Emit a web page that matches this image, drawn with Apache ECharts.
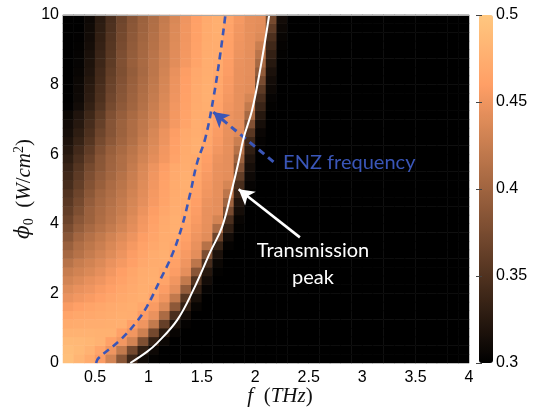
<!DOCTYPE html>
<html><head><meta charset="utf-8">
<script src="https://cdn.jsdelivr.net/npm/echarts@6/dist/echarts.min.js"></script>
<style>html,body{margin:0;padding:0;background:#fff}#c{width:537px;height:408px}</style>
</head><body><div id="c"></div>
<script>
// Frequency (THz) cell centres, columns of the map
const freqCenters = [0.25,0.35,0.45,0.55,0.65,0.75,0.85,0.95,1.05,1.15,
  1.25,1.35,1.45,1.55,1.65,1.75,1.85,1.95,2.05,2.15,
  2.25,2.35,2.45,2.55,2.65,2.75,2.85,2.95,3.05,3.15,
  3.25,3.35,3.45,3.55,3.65,3.75,3.85,3.95];
// Intensity phi0 (W/cm^2) cell centres, rows of the map
const phiCenters = [0.125,0.375,0.625,0.875,1.125,1.375,1.625,1.875,2.125,2.375,
  2.625,2.875,3.125,3.375,3.625,3.875,4.125,4.375,4.625,4.875,
  5.125,5.375,5.625,5.875,6.125,6.375,6.625,6.875,7.125,7.375,
  7.625,7.875,8.125,8.375,8.625,8.875,9.125,9.375,9.625,9.875];
// Map values (row = phi, column = frequency)
const mapValues = [
 [0.492,0.482,0.472,0.457,0.432,0.385,0.338,0.31,0.302,0.3, 0.3,0.3,0.3,0.3,0.3,0.3,0.3,0.3,0.3,0.3, 0.3,0.3,0.3,0.3,0.3,0.3,0.3,0.3,0.3,0.3,0.3,0.3,0.3,0.3,0.3,0.3,0.3,0.3],
 [0.49,0.486,0.479,0.466,0.45,0.422,0.372,0.33,0.308,0.3, 0.3,0.3,0.3,0.3,0.3,0.3,0.3,0.3,0.3,0.3, 0.3,0.3,0.3,0.3,0.3,0.3,0.3,0.3,0.3,0.3,0.3,0.3,0.3,0.3,0.3,0.3,0.3,0.3],
 [0.486,0.485,0.483,0.479,0.462,0.452,0.432,0.379,0.331,0.307, 0.3,0.3,0.3,0.3,0.3,0.3,0.3,0.3,0.3,0.3, 0.3,0.3,0.3,0.3,0.3,0.3,0.3,0.3,0.3,0.3,0.3,0.3,0.3,0.3,0.3,0.3,0.3,0.3],
 [0.479,0.479,0.479,0.478,0.478,0.462,0.451,0.428,0.372,0.326, 0.305,0.3,0.3,0.3,0.3,0.3,0.3,0.3,0.3,0.3, 0.3,0.3,0.3,0.3,0.3,0.3,0.3,0.3,0.3,0.3,0.3,0.3,0.3,0.3,0.3,0.3,0.3,0.3],
 [0.472,0.473,0.474,0.474,0.475,0.476,0.461,0.45,0.422,0.363, 0.319,0.303,0.3,0.3,0.3,0.3,0.3,0.3,0.3,0.3, 0.3,0.3,0.3,0.3,0.3,0.3,0.3,0.3,0.3,0.3,0.3,0.3,0.3,0.3,0.3,0.3,0.3,0.3],
 [0.465,0.468,0.469,0.471,0.473,0.475,0.474,0.458,0.447,0.407, 0.346,0.313,0.3,0.3,0.3,0.3,0.3,0.3,0.3,0.3, 0.3,0.3,0.3,0.3,0.3,0.3,0.3,0.3,0.3,0.3,0.3,0.3,0.3,0.3,0.3,0.3,0.3,0.3],
 [0.456,0.461,0.465,0.468,0.471,0.473,0.475,0.469,0.456,0.438, 0.388,0.331,0.305,0.3,0.3,0.3,0.3,0.3,0.3,0.3, 0.3,0.3,0.3,0.3,0.3,0.3,0.3,0.3,0.3,0.3,0.3,0.3,0.3,0.3,0.3,0.3,0.3,0.3],
 [0.447,0.452,0.456,0.461,0.466,0.47,0.473,0.476,0.464,0.451, 0.421,0.354,0.315,0.3,0.3,0.3,0.3,0.3,0.3,0.3, 0.3,0.3,0.3,0.3,0.3,0.3,0.3,0.3,0.3,0.3,0.3,0.3,0.3,0.3,0.3,0.3,0.3,0.3],
 [0.44,0.446,0.45,0.456,0.461,0.467,0.471,0.475,0.472,0.458, 0.444,0.392,0.331,0.304,0.3,0.3,0.3,0.3,0.3,0.3, 0.3,0.3,0.3,0.3,0.3,0.3,0.3,0.3,0.3,0.3,0.3,0.3,0.3,0.3,0.3,0.3,0.3,0.3],
 [0.432,0.438,0.445,0.45,0.457,0.463,0.469,0.474,0.476,0.465, 0.451,0.422,0.35,0.312,0.3,0.3,0.3,0.3,0.3,0.3, 0.3,0.3,0.3,0.3,0.3,0.3,0.3,0.3,0.3,0.3,0.3,0.3,0.3,0.3,0.3,0.3,0.3,0.3],
 [0.425,0.431,0.437,0.444,0.452,0.46,0.467,0.473,0.475,0.47, 0.458,0.444,0.385,0.323,0.302,0.3,0.3,0.3,0.3,0.3, 0.3,0.3,0.3,0.3,0.3,0.3,0.3,0.3,0.3,0.3,0.3,0.3,0.3,0.3,0.3,0.3,0.3,0.3],
 [0.415,0.425,0.431,0.438,0.447,0.454,0.461,0.469,0.473,0.474, 0.462,0.45,0.418,0.344,0.307,0.3,0.3,0.3,0.3,0.3, 0.3,0.3,0.3,0.3,0.3,0.3,0.3,0.3,0.3,0.3,0.3,0.3,0.3,0.3,0.3,0.3,0.3,0.3],
 [0.404,0.414,0.424,0.432,0.44,0.449,0.458,0.466,0.473,0.476, 0.467,0.455,0.443,0.377,0.317,0.3,0.3,0.3,0.3,0.3, 0.3,0.3,0.3,0.3,0.3,0.3,0.3,0.3,0.3,0.3,0.3,0.3,0.3,0.3,0.3,0.3,0.3,0.3],
 [0.396,0.41,0.419,0.427,0.436,0.445,0.454,0.463,0.469,0.474, 0.47,0.458,0.446,0.414,0.334,0.303,0.3,0.3,0.3,0.3, 0.3,0.3,0.3,0.3,0.3,0.3,0.3,0.3,0.3,0.3,0.3,0.3,0.3,0.3,0.3,0.3,0.3,0.3],
 [0.386,0.402,0.413,0.422,0.431,0.44,0.449,0.459,0.466,0.473, 0.474,0.462,0.45,0.442,0.368,0.312,0.3,0.3,0.3,0.3, 0.3,0.3,0.3,0.3,0.3,0.3,0.3,0.3,0.3,0.3,0.3,0.3,0.3,0.3,0.3,0.3,0.3,0.3],
 [0.376,0.393,0.405,0.414,0.423,0.433,0.443,0.454,0.464,0.472, 0.476,0.465,0.453,0.445,0.408,0.33,0.302,0.3,0.3,0.3, 0.3,0.3,0.3,0.3,0.3,0.3,0.3,0.3,0.3,0.3,0.3,0.3,0.3,0.3,0.3,0.3,0.3,0.3],
 [0.368,0.386,0.398,0.409,0.418,0.429,0.44,0.452,0.462,0.471, 0.476,0.468,0.456,0.446,0.433,0.347,0.305,0.3,0.3,0.3, 0.3,0.3,0.3,0.3,0.3,0.3,0.3,0.3,0.3,0.3,0.3,0.3,0.3,0.3,0.3,0.3,0.3,0.3],
 [0.362,0.379,0.397,0.407,0.416,0.425,0.436,0.448,0.459,0.468, 0.474,0.47,0.458,0.446,0.444,0.375,0.313,0.3,0.3,0.3, 0.3,0.3,0.3,0.3,0.3,0.3,0.3,0.3,0.3,0.3,0.3,0.3,0.3,0.3,0.3,0.3,0.3,0.3],
 [0.356,0.373,0.392,0.404,0.413,0.423,0.434,0.444,0.455,0.465, 0.473,0.472,0.46,0.448,0.444,0.4,0.32,0.3,0.3,0.3, 0.3,0.3,0.3,0.3,0.3,0.3,0.3,0.3,0.3,0.3,0.3,0.3,0.3,0.3,0.3,0.3,0.3,0.3],
 [0.351,0.368,0.387,0.401,0.41,0.42,0.431,0.442,0.454,0.464, 0.472,0.475,0.463,0.451,0.445,0.418,0.333,0.302,0.3,0.3, 0.3,0.3,0.3,0.3,0.3,0.3,0.3,0.3,0.3,0.3,0.3,0.3,0.3,0.3,0.3,0.3,0.3,0.3],
 [0.344,0.362,0.382,0.395,0.407,0.417,0.428,0.44,0.452,0.463, 0.472,0.476,0.465,0.453,0.445,0.434,0.345,0.304,0.3,0.3, 0.3,0.3,0.3,0.3,0.3,0.3,0.3,0.3,0.3,0.3,0.3,0.3,0.3,0.3,0.3,0.3,0.3,0.3],
 [0.34,0.358,0.378,0.392,0.403,0.414,0.426,0.438,0.451,0.462, 0.471,0.476,0.467,0.455,0.446,0.443,0.362,0.309,0.3,0.3, 0.3,0.3,0.3,0.3,0.3,0.3,0.3,0.3,0.3,0.3,0.3,0.3,0.3,0.3,0.3,0.3,0.3,0.3],
 [0.335,0.353,0.373,0.387,0.4,0.41,0.423,0.436,0.449,0.459, 0.47,0.474,0.47,0.458,0.446,0.444,0.381,0.314,0.3,0.3, 0.3,0.3,0.3,0.3,0.3,0.3,0.3,0.3,0.3,0.3,0.3,0.3,0.3,0.3,0.3,0.3,0.3,0.3],
 [0.329,0.347,0.366,0.386,0.399,0.41,0.42,0.432,0.443,0.453, 0.464,0.473,0.472,0.46,0.448,0.444,0.399,0.32,0.3,0.3, 0.3,0.3,0.3,0.3,0.3,0.3,0.3,0.3,0.3,0.3,0.3,0.3,0.3,0.3,0.3,0.3,0.3,0.3],
 [0.323,0.341,0.36,0.38,0.395,0.406,0.417,0.429,0.44,0.452, 0.462,0.472,0.476,0.464,0.452,0.445,0.414,0.33,0.301,0.3, 0.3,0.3,0.3,0.3,0.3,0.3,0.3,0.3,0.3,0.3,0.3,0.3,0.3,0.3,0.3,0.3,0.3,0.3],
 [0.318,0.334,0.353,0.374,0.388,0.401,0.412,0.425,0.437,0.449, 0.461,0.471,0.476,0.467,0.455,0.445,0.427,0.34,0.303,0.3, 0.3,0.3,0.3,0.3,0.3,0.3,0.3,0.3,0.3,0.3,0.3,0.3,0.3,0.3,0.3,0.3,0.3,0.3],
 [0.314,0.329,0.348,0.369,0.384,0.398,0.409,0.421,0.435,0.448, 0.459,0.47,0.474,0.469,0.457,0.446,0.441,0.356,0.306,0.3, 0.3,0.3,0.3,0.3,0.3,0.3,0.3,0.3,0.3,0.3,0.3,0.3,0.3,0.3,0.3,0.3,0.3,0.3],
 [0.311,0.324,0.344,0.364,0.384,0.398,0.409,0.42,0.431,0.443, 0.454,0.465,0.474,0.471,0.459,0.447,0.444,0.381,0.314,0.3, 0.3,0.3,0.3,0.3,0.3,0.3,0.3,0.3,0.3,0.3,0.3,0.3,0.3,0.3,0.3,0.3,0.3,0.3],
 [0.307,0.32,0.339,0.359,0.38,0.394,0.406,0.417,0.429,0.441, 0.453,0.464,0.473,0.473,0.461,0.449,0.444,0.405,0.324,0.3, 0.3,0.3,0.3,0.3,0.3,0.3,0.3,0.3,0.3,0.3,0.3,0.3,0.3,0.3,0.3,0.3,0.3,0.3],
 [0.301,0.312,0.332,0.352,0.374,0.389,0.401,0.413,0.426,0.439, 0.452,0.463,0.472,0.475,0.463,0.451,0.445,0.422,0.336,0.302, 0.3,0.3,0.3,0.3,0.3,0.3,0.3,0.3,0.3,0.3,0.3,0.3,0.3,0.3,0.3,0.3,0.3,0.3],
 [0.3,0.309,0.328,0.348,0.37,0.386,0.399,0.411,0.424,0.437, 0.45,0.462,0.471,0.476,0.465,0.453,0.445,0.434,0.346,0.304, 0.3,0.3,0.3,0.3,0.3,0.3,0.3,0.3,0.3,0.3,0.3,0.3,0.3,0.3,0.3,0.3,0.3,0.3],
 [0.3,0.308,0.326,0.346,0.367,0.384,0.397,0.409,0.422,0.435, 0.449,0.461,0.471,0.476,0.467,0.455,0.445,0.442,0.359,0.308, 0.3,0.3,0.3,0.3,0.3,0.3,0.3,0.3,0.3,0.3,0.3,0.3,0.3,0.3,0.3,0.3,0.3,0.3],
 [0.3,0.307,0.323,0.343,0.365,0.381,0.395,0.407,0.42,0.434, 0.448,0.46,0.47,0.475,0.468,0.456,0.446,0.443,0.375,0.312, 0.3,0.3,0.3,0.3,0.3,0.3,0.3,0.3,0.3,0.3,0.3,0.3,0.3,0.3,0.3,0.3,0.3,0.3],
 [0.3,0.305,0.32,0.341,0.362,0.379,0.393,0.405,0.418,0.432, 0.446,0.459,0.469,0.474,0.47,0.458,0.446,0.444,0.391,0.317, 0.3,0.3,0.3,0.3,0.3,0.3,0.3,0.3,0.3,0.3,0.3,0.3,0.3,0.3,0.3,0.3,0.3,0.3],
 [0.3,0.304,0.318,0.338,0.359,0.38,0.395,0.406,0.418,0.43, 0.442,0.454,0.465,0.474,0.471,0.459,0.447,0.444,0.405,0.324, 0.3,0.3,0.3,0.3,0.3,0.3,0.3,0.3,0.3,0.3,0.3,0.3,0.3,0.3,0.3,0.3,0.3,0.3],
 [0.3,0.303,0.316,0.336,0.356,0.378,0.393,0.404,0.416,0.429, 0.441,0.453,0.464,0.473,0.473,0.461,0.449,0.444,0.416,0.332, 0.302,0.3,0.3,0.3,0.3,0.3,0.3,0.3,0.3,0.3,0.3,0.3,0.3,0.3,0.3,0.3,0.3,0.3],
 [0.3,0.302,0.313,0.333,0.354,0.375,0.391,0.403,0.414,0.427, 0.44,0.452,0.463,0.473,0.474,0.462,0.45,0.445,0.426,0.34, 0.303,0.3,0.3,0.3,0.3,0.3,0.3,0.3,0.3,0.3,0.3,0.3,0.3,0.3,0.3,0.3,0.3,0.3],
 [0.3,0.301,0.311,0.331,0.352,0.373,0.389,0.401,0.413,0.426, 0.439,0.451,0.462,0.472,0.475,0.463,0.451,0.445,0.438,0.348, 0.305,0.3,0.3,0.3,0.3,0.3,0.3,0.3,0.3,0.3,0.3,0.3,0.3,0.3,0.3,0.3,0.3,0.3],
 [0.3,0.3,0.31,0.329,0.349,0.371,0.387,0.399,0.411,0.425, 0.438,0.451,0.462,0.472,0.476,0.464,0.452,0.445,0.442,0.36, 0.308,0.3,0.3,0.3,0.3,0.3,0.3,0.3,0.3,0.3,0.3,0.3,0.3,0.3,0.3,0.3,0.3,0.3],
 [0.3,0.3,0.308,0.327,0.347,0.369,0.385,0.398,0.41,0.423, 0.436,0.45,0.461,0.471,0.476,0.466,0.454,0.445,0.443,0.373, 0.312,0.3,0.3,0.3,0.3,0.3,0.3,0.3,0.3,0.3,0.3,0.3,0.3,0.3,0.3,0.3,0.3,0.3]
];
// ENZ frequency curve [f (THz), phi0]
const enzCurve = [[0.51,0],[0.531,0.135],[0.735,0.66],[0.891,1.19],[0.985,1.62],[1.11,2.39],[1.22,3.10],[1.313,3.92],[1.391,4.88],[1.454,5.74],[1.532,6.46],[1.61,7.65],[1.673,8.9],[1.72,10]];
// Transmission peak curve [f (THz), phi0]
const peakCurve = [[0.83,0],[0.985,0.32],[1.08,0.57],[1.27,1.24],[1.42,2.1],[1.58,3.2],[1.69,3.92],[1.78,4.97],[1.84,5.74],[1.89,6.46],[1.97,7.27],[2.05,8.51],[2.13,10]];
const xTicks = [0.5,1,1.5,2,2.5,3,3.5,4];
const yTicks = [0,2,4,6,8,10];
const cbarTicks = [0.3,0.35,0.4,0.45,0.5];
// Annotations in data coordinates
const enzArrow = [[2.17,5.78],[1.607,7.21]];
const peakArrow = [[2.417,3.61],[1.844,4.99]];
const enzLabelAt = [2.26,5.75];
const peakLabelAt = [2.54,2.83];

const cells = [];
mapValues.forEach((row, i) => row.forEach((v, j) => cells.push([j, i, v])));

const copper = ['#000000','#402819','#805033','#BF784C','#FF9F66','#FFC77F'];
const serif = 'Liberation Serif';
const rich = {
  i: {fontFamily: serif, fontStyle: 'italic', fontSize: 21, lineHeight: 24, color: '#111'},
  p: {fontFamily: 'DejaVu Serif', fontStyle: 'italic', fontSize: 20, lineHeight: 24, color: '#111'},
  n: {fontFamily: serif, fontSize: 21, lineHeight: 24, color: '#111'},
  sub: {fontFamily: serif, fontSize: 14, lineHeight: 14, verticalAlign: 'bottom', color: '#111'},
  sup: {fontFamily: serif, fontSize: 14, lineHeight: 14, verticalAlign: 'top', color: '#111'}
};
const G = {left: 63, top: 15, width: 406, height: 348, outerBoundsMode: 'none', containLabel: false};
const tickFont = {fontFamily: 'Liberation Sans', fontSize: 16, color: '#000'};

const chart = echarts.init(document.getElementById('c'), null, {renderer: 'canvas'});
chart.setOption({
  animation: false,
  backgroundColor: '#fff',
  grid: [
    Object.assign({}, G),
    Object.assign({}, G),
    {left: 479, top: 15, width: 14, height: 348, outerBoundsMode: 'none', containLabel: false}
  ],
  xAxis: [
    {type: 'category', gridIndex: 0, data: freqCenters, show: false},
    {type: 'value', gridIndex: 1, min: 0.2, max: 4,
      axisLine: {show: false}, axisTick: {show: false}, splitLine: {show: false},
      axisLabel: Object.assign({customValues: xTicks, margin: 7}, tickFont),
      name: '{i|f}{n|  (}{i|THz}{n|)}', nameLocation: 'middle', nameGap: 21, nameMoveOverlap: false,
      nameTextStyle: {rich: rich, padding: [0, 0, 0, 28]}},
    {type: 'value', gridIndex: 1, min: 0.2, max: 4, position: 'top', z: 10,
      axisLine: {show: true, lineStyle: {color: '#aaa', width: 1}},
      axisTick: {show: false}, axisLabel: {show: false}, splitLine: {show: false}},
    {type: 'value', gridIndex: 2, show: false, min: 0, max: 1}
  ],
  yAxis: [
    {type: 'category', gridIndex: 0, data: phiCenters, show: false},
    {type: 'value', gridIndex: 1, min: 0, max: 10,
      axisLine: {show: false}, axisTick: {show: false}, splitLine: {show: false},
      axisLabel: Object.assign({customValues: yTicks, margin: 4}, tickFont),
      name: '{p|\u03D5}{sub|0}{n|  (}{i|W}{n|/}{i|cm}{sup|2}{n|)}', nameLocation: 'middle', nameGap: 27, nameRotate: 90,
      nameMoveOverlap: false, nameTextStyle: {rich: rich}},
    {type: 'value', gridIndex: 2, min: 0.3, max: 0.5, position: 'right', z: 10,
      axisLine: {show: false}, splitLine: {show: false},
      axisTick: {show: true, inside: true, length: 3, customValues: cbarTicks, lineStyle: {color: '#444'}},
      axisLabel: Object.assign({customValues: cbarTicks, margin: 3}, tickFont)},
    {type: 'value', gridIndex: 2, min: 0.3, max: 0.5, position: 'left', z: 10,
      axisLine: {show: false}, splitLine: {show: false}, axisLabel: {show: false},
      axisTick: {show: true, inside: true, length: 3, customValues: cbarTicks, lineStyle: {color: '#444'}}}
  ],
  visualMap: {
    type: 'continuous', seriesIndex: 0, min: 0.3, max: 0.5,
    left: 479, top: 15, itemWidth: 14, itemHeight: 348, padding: 0,
    calculable: false, hoverLink: false, inRange: {color: copper}
  },
  series: [
    {type: 'heatmap', xAxisIndex: 0, yAxisIndex: 0, data: cells, progressive: 0,
      emphasis: {disabled: true}, silent: true},
    {type: 'line', xAxisIndex: 1, yAxisIndex: 1, data: enzCurve, smooth: 0.4,
      showSymbol: false, silent: true, z: 5,
      lineStyle: {color: '#3A56B8', width: 2.6, type: [7, 5]},
      markLine: {silent: true, symbol: ['none', 'arrow'], symbolSize: [13, 15],
        lineStyle: {color: '#3A56B8', width: 3, type: [7, 5]}, label: {show: false},
        data: [[{coord: enzArrow[0]}, {coord: enzArrow[1]}]]},
      markPoint: {silent: true, symbol: 'circle', symbolSize: 0,
        label: {show: true, formatter: 'ENZ frequency', position: 'inside', align: 'left', verticalAlign: 'middle',
          fontFamily: 'Lato', fontSize: 20, color: '#3A56B8'},
        data: [{coord: enzLabelAt}]}},
    {type: 'line', xAxisIndex: 1, yAxisIndex: 1, data: peakCurve, smooth: 0.4,
      showSymbol: false, silent: true, z: 5,
      lineStyle: {color: '#ffffff', width: 2},
      markLine: {silent: true, symbol: ['none', 'arrow'], symbolSize: [13, 15],
        lineStyle: {color: '#ffffff', width: 2.6, type: 'solid'}, label: {show: false},
        data: [[{coord: peakArrow[0]}, {coord: peakArrow[1]}]]},
      markPoint: {silent: true, symbol: 'circle', symbolSize: 0,
        label: {show: true, formatter: 'Transmission\npeak', position: 'inside', align: 'center', verticalAlign: 'middle',
          fontFamily: 'Lato', fontSize: 20, lineHeight: 27, color: '#ffffff'},
        data: [{coord: peakLabelAt}]}}
  ]
});
</script>
</body></html>
